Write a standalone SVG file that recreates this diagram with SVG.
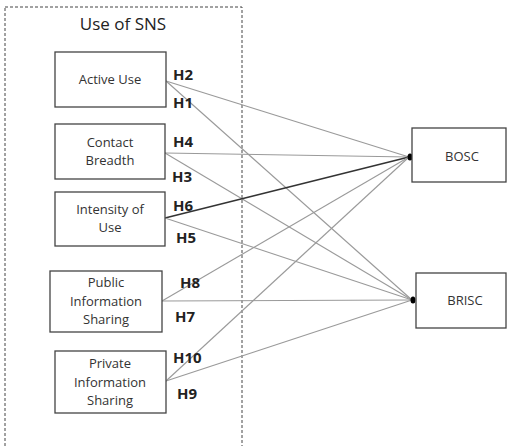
<svg xmlns="http://www.w3.org/2000/svg" width="507" height="446" viewBox="0 0 507 446">
<style>
.box{fill:#fff;stroke:#444;stroke-width:1.3}
.t{font-family:"Open Sans","Liberation Sans",sans-serif;font-size:13px;fill:#333;text-anchor:middle}
.h{font-family:"Open Sans","Liberation Sans",sans-serif;font-size:15px;font-weight:bold;fill:#222}
.c{stroke:#9a9a9a;stroke-width:1.1;fill:none}
.cd{stroke:#333;stroke-width:1.3;fill:none}
</style>
<rect width="507" height="446" fill="#fff"/>
<g id="group-sns">
<rect x="5" y="7" width="237" height="445" fill="none" stroke="#444" stroke-width="1" stroke-dasharray="3,2"/>
<text x="123" y="30" font-family="Open Sans, Liberation Sans, sans-serif" font-size="17" fill="#222" text-anchor="middle">Use of SNS</text>
</g>
<g id="connectors">
<line class="c" x1="166" y1="81" x2="409" y2="157"/>
<line class="c" x1="166" y1="81" x2="412" y2="300"/>
<line class="c" x1="165" y1="153" x2="409" y2="157"/>
<line class="c" x1="165" y1="153" x2="412" y2="300"/>
<line class="cd" x1="165" y1="218" x2="409" y2="157"/>
<line class="c" x1="165" y1="218" x2="412" y2="300"/>
<line class="c" x1="162" y1="301" x2="409" y2="157"/>
<line class="c" x1="162" y1="301" x2="412" y2="300"/>
<line class="c" x1="166" y1="381" x2="409" y2="157"/>
<line class="c" x1="166" y1="381" x2="412" y2="300"/>
<ellipse cx="410" cy="157" rx="2.5" ry="3.5" fill="#000"/>
<ellipse cx="413" cy="300" rx="2.5" ry="3.5" fill="#000"/>
<text class="h" x="173" y="80">H2</text>
<text class="h" x="173" y="108">H1</text>
<text class="h" x="173" y="147">H4</text>
<text class="h" x="172" y="182">H3</text>
<text class="h" x="173" y="211">H6</text>
<text class="h" x="176" y="243">H5</text>
<text class="h" x="180" y="288">H8</text>
<text class="h" x="175" y="322">H7</text>
<text class="h" x="173" y="363">H10</text>
<text class="h" x="177" y="399">H9</text>
</g>
<g id="active-use">
<rect class="box" x="55" y="52" width="111" height="55"/>
<text class="t" x="110" y="84">Active Use</text>
</g>
<g id="contact-breadth">
<rect class="box" x="55" y="124" width="110" height="55"/>
<text class="t" x="110" y="147">Contact</text>
<text class="t" x="110" y="165">Breadth</text>
</g>
<g id="intensity-of-use">
<rect class="box" x="55" y="192" width="110" height="54"/>
<text class="t" x="110" y="214">Intensity of</text>
<text class="t" x="110" y="232">Use</text>
</g>
<g id="public-info">
<rect class="box" x="50" y="271" width="112" height="61"/>
<text class="t" x="106" y="287">Public</text>
<text class="t" x="106" y="306">Information</text>
<text class="t" x="106" y="324">Sharing</text>
</g>
<g id="private-info">
<rect class="box" x="55" y="351" width="111" height="62"/>
<text class="t" x="110" y="368">Private</text>
<text class="t" x="110" y="387">Information</text>
<text class="t" x="110" y="405">Sharing</text>
</g>
<g id="bosc">
<rect class="box" x="412" y="128" width="94" height="54"/>
<text class="t" x="462" y="161">BOSC</text>
</g>
<g id="brisc">
<rect class="box" x="416" y="273" width="90" height="55"/>
<text class="t" x="465" y="305">BRISC</text>
</g>
</svg>
